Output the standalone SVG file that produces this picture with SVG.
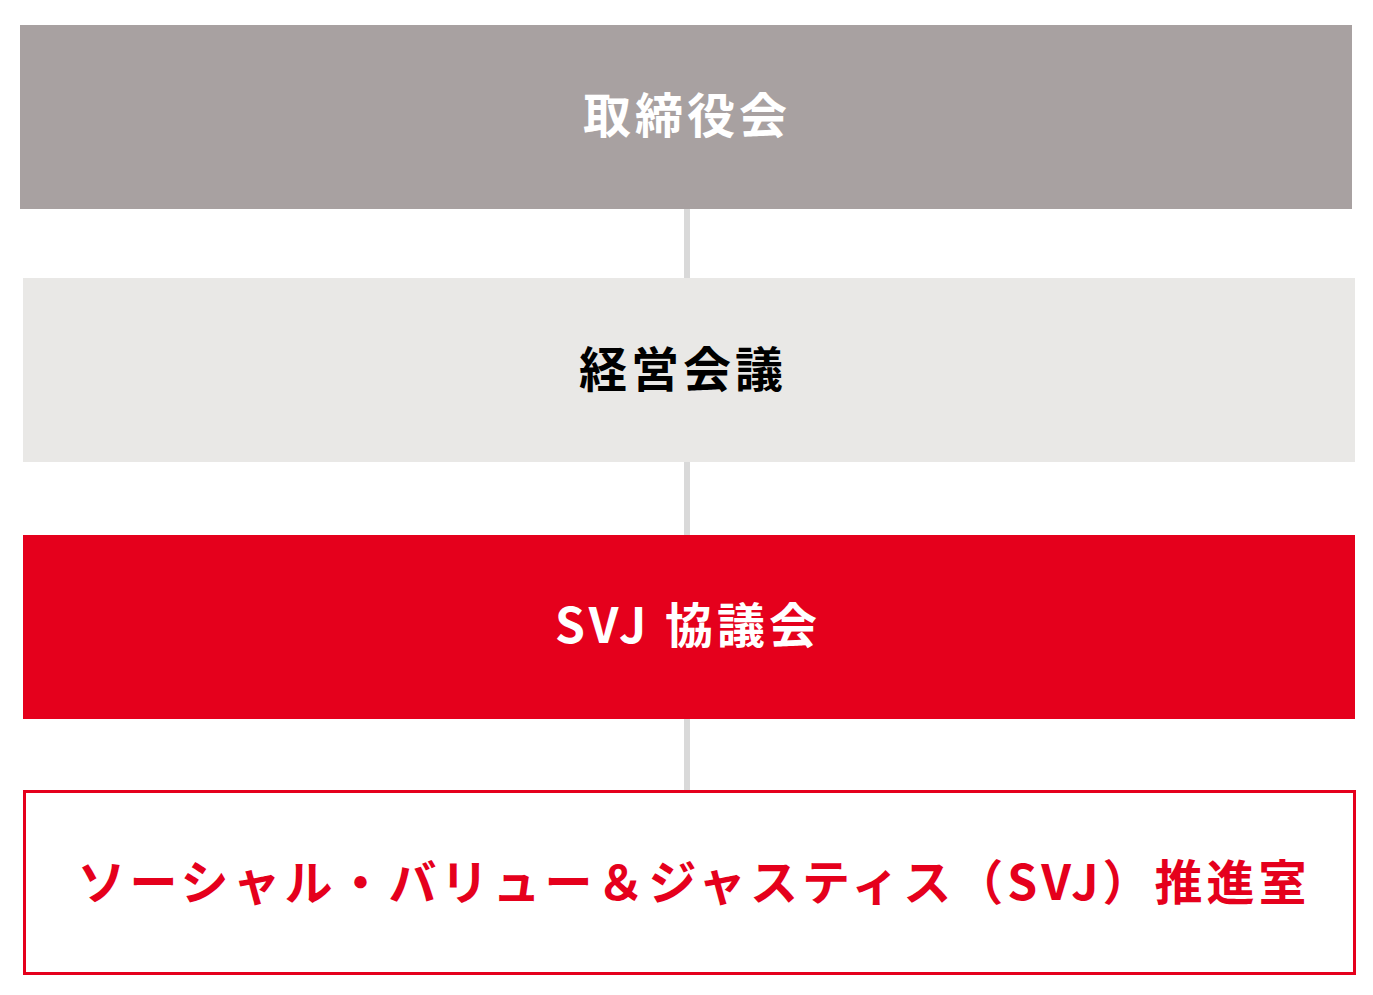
<svg xmlns="http://www.w3.org/2000/svg" width="1373" height="995" viewBox="0 0 1373 995">
<style>
text{font-family:"Noto Sans CJK JP","Noto Sans",sans-serif;font-weight:bold;font-size:48px;text-anchor:middle}
.conn{stroke:#d9d9d9;stroke-width:6;fill:none}
</style>
<rect width="1373" height="995" fill="#ffffff"/>
<g id="connectors">
<line class="conn" x1="687" y1="209" x2="687" y2="278"/>
<line class="conn" x1="687" y1="462" x2="687" y2="535"/>
<line class="conn" x1="687" y1="719" x2="687" y2="790"/>
</g>
<g id="board">
<rect x="20" y="25" width="1332" height="184" fill="#a8a1a1"/>
<text x="687" y="133" fill="#ffffff" letter-spacing="4" font-size="49">取締役会</text>
</g>
<g id="management">
<rect x="23" y="278" width="1332" height="184" fill="#e9e8e6"/>
<text x="683" y="387" fill="#000000" letter-spacing="4" font-size="49">経営会議</text>
</g>
<g id="svj-council">
<rect x="23" y="535" width="1332" height="184" fill="#e5001c"/>
<text x="688" y="643" fill="#ffffff" letter-spacing="4">SVJ 協議会</text>
</g>
<g id="svj-office">
<rect x="24.5" y="791.5" width="1330" height="182" fill="#ffffff" stroke="#e5001c" stroke-width="3"/>
<text x="694" y="900" fill="#e5001c" letter-spacing="4">ソーシャル・バリュー＆ジャスティス（SVJ）推進室</text>
</g>
</svg>
